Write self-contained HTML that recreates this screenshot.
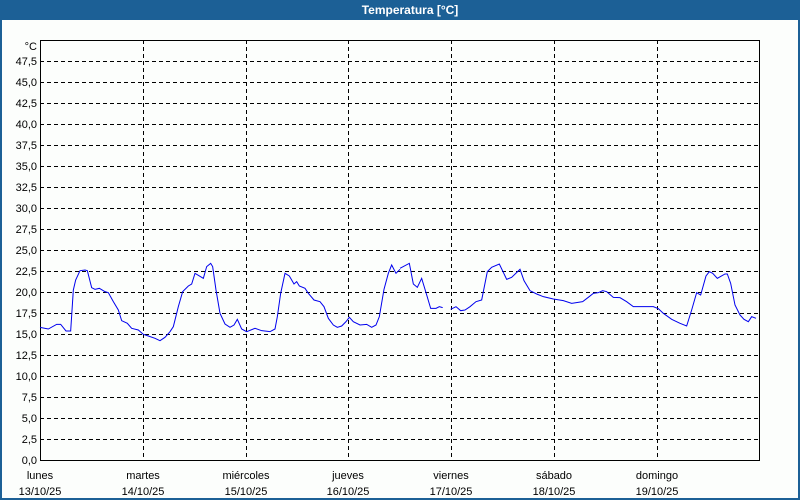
<!DOCTYPE html>
<html><head><meta charset="utf-8"><style>
html,body{margin:0;padding:0;background:#fff}
body{width:800px;height:500px;overflow:hidden;position:relative;font-family:"Liberation Sans",sans-serif}
</style></head><body>
<svg width="800" height="500" xmlns="http://www.w3.org/2000/svg" style="position:absolute;left:0;top:0">
<rect x="0" y="0" width="800" height="500" fill="#fcfefc"/>
<rect x="0" y="0" width="800" height="20" fill="#1c6096"/>
<rect x="0" y="0" width="2" height="500" fill="#1c6096"/>
<rect x="798" y="0" width="2" height="500" fill="#1c6096"/>
<rect x="0" y="498" width="800" height="2" fill="#1c6096"/>
<text x="410" y="14" fill="#fff" font-size="12" font-weight="bold" text-anchor="middle">Temperatura [°C]</text>
<g stroke="#000" stroke-width="1" stroke-dasharray="4,3" shape-rendering="crispEdges">
<line x1="40" y1="61.5" x2="760" y2="61.5"/><line x1="40" y1="82.5" x2="760" y2="82.5"/>
<line x1="40" y1="103.5" x2="760" y2="103.5"/><line x1="40" y1="124.5" x2="760" y2="124.5"/>
<line x1="40" y1="145.5" x2="760" y2="145.5"/><line x1="40" y1="166.5" x2="760" y2="166.5"/>
<line x1="40" y1="187.5" x2="760" y2="187.5"/><line x1="40" y1="208.5" x2="760" y2="208.5"/>
<line x1="40" y1="229.5" x2="760" y2="229.5"/><line x1="40" y1="250.5" x2="760" y2="250.5"/>
<line x1="40" y1="271.5" x2="760" y2="271.5"/><line x1="40" y1="292.5" x2="760" y2="292.5"/>
<line x1="40" y1="313.5" x2="760" y2="313.5"/><line x1="40" y1="334.5" x2="760" y2="334.5"/>
<line x1="40" y1="355.5" x2="760" y2="355.5"/><line x1="40" y1="376.5" x2="760" y2="376.5"/>
<line x1="40" y1="397.5" x2="760" y2="397.5"/><line x1="40" y1="418.5" x2="760" y2="418.5"/>
<line x1="40" y1="439.5" x2="760" y2="439.5"/>
<line x1="143.5" y1="40" x2="143.5" y2="460"/><line x1="246.5" y1="40" x2="246.5" y2="460"/>
<line x1="348.5" y1="40" x2="348.5" y2="460"/><line x1="451.5" y1="40" x2="451.5" y2="460"/>
<line x1="554.5" y1="40" x2="554.5" y2="460"/><line x1="657.5" y1="40" x2="657.5" y2="460"/>
</g>
<rect x="40.5" y="40.5" width="719" height="420" fill="none" stroke="#000" stroke-width="1" shape-rendering="crispEdges"/>
<g font-size="11" fill="#000" text-anchor="end">
<text x="37" y="50">°C</text>
<text x="37" y="65">47,5</text><text x="37" y="86">45,0</text><text x="37" y="107">42,5</text>
<text x="37" y="128">40,0</text><text x="37" y="149">37,5</text><text x="37" y="170">35,0</text>
<text x="37" y="191">32,5</text><text x="37" y="212">30,0</text><text x="37" y="233">27,5</text>
<text x="37" y="254">25,0</text><text x="37" y="275">22,5</text><text x="37" y="296">20,0</text>
<text x="37" y="317">17,5</text><text x="37" y="338">15,0</text><text x="37" y="359">12,5</text>
<text x="37" y="380">10,0</text><text x="37" y="401">7,5</text><text x="37" y="422">5,0</text>
<text x="37" y="443">2,5</text><text x="37" y="464">0,0</text>
</g>
<g font-size="11" fill="#000" text-anchor="middle">
<text x="40" y="479">lunes</text><text x="40" y="495">13/10/25</text>
<text x="143" y="479">martes</text><text x="143" y="495">14/10/25</text>
<text x="246" y="479">miércoles</text><text x="246" y="495">15/10/25</text>
<text x="348" y="479">jueves</text><text x="348" y="495">16/10/25</text>
<text x="451" y="479">viernes</text><text x="451" y="495">17/10/25</text>
<text x="554" y="479">sábado</text><text x="554" y="495">18/10/25</text>
<text x="657" y="479">domingo</text><text x="657" y="495">19/10/25</text>
</g>
<g fill="none" stroke="#0000ee" stroke-width="1">
<polyline transform="translate(40,250) scale(0.33333)" vector-effect="non-scaling-stroke" points="0,232 25,237 50,223 62,223 78,243 92,243 100,120 107,90 120,62 135,60 142,62 155,113 165,118 178,115 195,125 205,128 220,155 235,180 245,212 262,220 275,235 295,240 310,253 325,258 345,265 360,272 375,262 390,245 400,230 415,170 428,125 445,108 455,102 465,70 490,85 500,50 512,40 518,50 528,120 540,190 555,222 570,232 582,225 592,208 605,237 620,245 645,235 665,242 690,245 705,237 712,200 722,130 735,70 748,78 762,102 770,95 778,108 795,115 805,130 822,150 840,155 852,170 865,205 880,225 892,232 905,228 918,215 928,202 940,215 960,225 980,223 995,232 1008,225 1018,200 1032,118 1045,70 1055,45 1068,70 1080,58"/>
<polyline transform="translate(400,250) scale(0.33333)" vector-effect="non-scaling-stroke" points="0,55 28,40 40,102 52,112 65,85 78,128 92,175 108,175 118,170 128,173"/>
<polyline transform="translate(400,250) scale(0.33333)" vector-effect="non-scaling-stroke" points="152,178 168,170 182,182 195,180 210,170 228,155 245,150 262,65 275,52 298,42 320,88 335,82 360,58 372,92 390,122 410,132 430,140 460,147 490,152 515,160 548,155 565,142 580,130 595,128 608,122 620,125 640,142 660,143 680,155 700,170 720,170 760,170 775,176 790,190 815,208 840,220 860,228 875,180 890,128 902,135 918,78 928,65 938,70 952,85 975,72 982,72 992,100 1005,165 1020,195 1032,208 1045,215 1055,200 1068,205"/>
</g>
</svg>
</body></html>
